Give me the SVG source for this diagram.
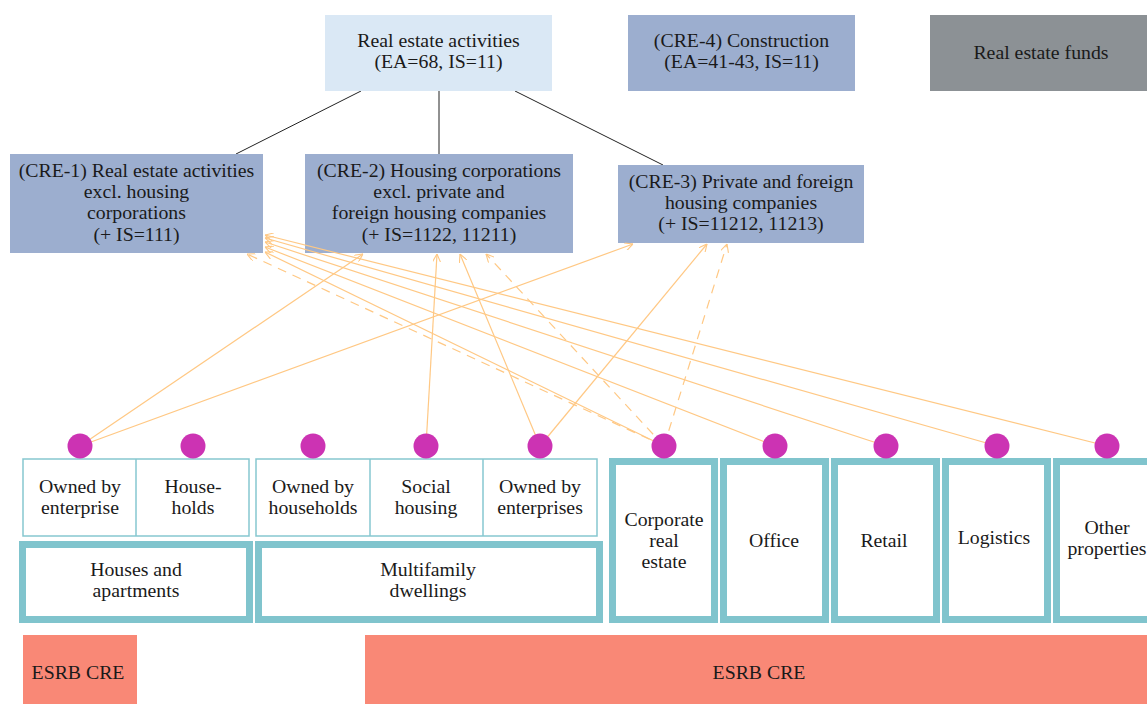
<svg xmlns="http://www.w3.org/2000/svg" width="1147" height="704" viewBox="0 0 1147 704">
  <style>
    .lbl { font-size: 19.8px; fill: #1a1a1a; text-anchor: middle; }
    .sector { fill: #9caecf; }
    .thin { fill: #ffffff; stroke: #86c7d0; stroke-width: 1.5; }
    .thick { fill: #ffffff; stroke: #80c4cd; stroke-width: 7; }
    .dot { fill: #cc33b3; }
    .esrb { fill: #f98876; }
    .tree { stroke: #222222; stroke-width: 1; fill: none; }
    .link { stroke: #ffc884; stroke-width: 1.2; fill: none; marker-end: url(#open); }
    .dash { stroke-dasharray: 9 7; }
  </style>
  <defs>
    <marker id="open" viewBox="0 0 10 10" refX="10" refY="5" markerWidth="8" markerHeight="8" markerUnits="userSpaceOnUse" orient="auto">
      <path d="M0,0 L10,5 L0,10" fill="none" stroke="#ffc884" stroke-width="1.4"/>
    </marker>
  </defs>

  <rect width="1147" height="704" fill="#ffffff"/>

  <!-- hierarchy lines -->
  <g id="tree-lines">
    <line class="tree" x1="361" y1="91" x2="236" y2="154"/>
    <line class="tree" x1="439" y1="91" x2="439" y2="154"/>
    <line class="tree" x1="515" y1="91" x2="663" y2="165"/>
  </g>

  <g font-family="'Liberation Serif', 'DejaVu Serif', serif">
  <!-- top row -->
  <g id="real-estate-activities">
    <rect x="325" y="15" width="227" height="76" fill="#dae8f5"/>
    <text class="lbl" x="438.5" y="47">Real estate activities</text>
    <text class="lbl" x="438.5" y="68">(EA=68, IS=11)</text>
  </g>
  <g id="cre-4">
    <rect class="sector" x="628" y="15" width="227" height="76"/>
    <text class="lbl" x="741.5" y="47">(CRE-4) Construction</text>
    <text class="lbl" x="741.5" y="68">(EA=41-43, IS=11)</text>
  </g>
  <g id="real-estate-funds">
    <rect x="930" y="15" width="217" height="76" fill="#8c9195"/>
    <text class="lbl" x="1041" y="59">Real estate funds</text>
  </g>

  <!-- sector row -->
  <g id="cre-1">
    <rect class="sector" x="10" y="154" width="253" height="99"/>
    <text class="lbl" x="136.5" y="177">(CRE-1) Real estate activities</text>
    <text class="lbl" x="136.5" y="198">excl. housing</text>
    <text class="lbl" x="136.5" y="219">corporations</text>
    <text class="lbl" x="136.5" y="241">(+ IS=111)</text>
  </g>
  <g id="cre-2">
    <rect class="sector" x="305" y="154" width="268" height="99"/>
    <text class="lbl" x="439" y="177">(CRE-2) Housing corporations</text>
    <text class="lbl" x="439" y="198">excl. private and</text>
    <text class="lbl" x="439" y="219">foreign housing companies</text>
    <text class="lbl" x="439" y="241">(+ IS=1122, 11211)</text>
  </g>
  <g id="cre-3">
    <rect class="sector" x="618" y="165" width="246" height="78"/>
    <text class="lbl" x="741" y="188">(CRE-3) Private and foreign</text>
    <text class="lbl" x="741" y="209">housing companies</text>
    <text class="lbl" x="741" y="230">(+ IS=11212, 11213)</text>
  </g>
  </g>

  <!-- connectors from property types to sectors -->
  <g id="connectors">
    <line class="link" x1="80" y1="446" x2="363" y2="254"/>
    <line class="link" x1="80" y1="446" x2="633" y2="244"/>
    <line class="link" x1="426" y1="446" x2="437" y2="254"/>
    <line class="link" x1="540" y1="446" x2="460" y2="254"/>
    <line class="link" x1="540" y1="446" x2="707" y2="244"/>
    <line class="link dash" x1="664" y1="446" x2="727" y2="244"/>
    <line class="link dash" x1="664" y1="446" x2="486" y2="254"/>
    <line class="link dash" x1="664" y1="446" x2="247" y2="254"/>
    <line class="link" x1="664" y1="446" x2="265" y2="252"/>
    <line class="link" x1="775" y1="446" x2="265" y2="247"/>
    <line class="link" x1="886" y1="446" x2="265" y2="242"/>
    <line class="link" x1="997" y1="446" x2="265" y2="238"/>
    <line class="link" x1="1107" y1="446" x2="265" y2="235"/>
  </g>

  <g font-family="'Liberation Serif', 'DejaVu Serif', serif">
  <!-- dwelling ownership cells -->
  <g id="houses-owners">
    <rect class="thin" x="23" y="459" width="226" height="77"/>
    <line class="thin" x1="136" y1="459" x2="136" y2="536"/>
    <text class="lbl" x="80" y="493">Owned by</text>
    <text class="lbl" x="80" y="514">enterprise</text>
    <text class="lbl" x="193" y="493">House-</text>
    <text class="lbl" x="193" y="514">holds</text>
  </g>
  <g id="multifamily-owners">
    <rect class="thin" x="256" y="459" width="341" height="77"/>
    <line class="thin" x1="370" y1="459" x2="370" y2="536"/>
    <line class="thin" x1="483" y1="459" x2="483" y2="536"/>
    <text class="lbl" x="313" y="493">Owned by</text>
    <text class="lbl" x="313" y="514">households</text>
    <text class="lbl" x="426" y="493">Social</text>
    <text class="lbl" x="426" y="514">housing</text>
    <text class="lbl" x="540" y="493">Owned by</text>
    <text class="lbl" x="540" y="514">enterprises</text>
  </g>

  <g id="houses-apartments">
    <rect class="thick" x="22.5" y="544.5" width="227" height="75"/>
    <text class="lbl" x="136" y="576">Houses and</text>
    <text class="lbl" x="136" y="597">apartments</text>
  </g>
  <g id="multifamily">
    <rect class="thick" x="258.5" y="544.5" width="341" height="75"/>
    <text class="lbl" x="428" y="576">Multifamily</text>
    <text class="lbl" x="428" y="597">dwellings</text>
  </g>

  <g id="corporate-real-estate">
    <rect class="thick" x="612.5" y="461.5" width="102" height="158"/>
    <text class="lbl" x="664" y="526">Corporate</text>
    <text class="lbl" x="664" y="547">real</text>
    <text class="lbl" x="664" y="568">estate</text>
  </g>
  <g id="office">
    <rect class="thick" x="723.5" y="461.5" width="102" height="158"/>
    <text class="lbl" x="774" y="547">Office</text>
  </g>
  <g id="retail">
    <rect class="thick" x="834.5" y="461.5" width="102" height="158"/>
    <text class="lbl" x="884" y="547">Retail</text>
  </g>
  <g id="logistics">
    <rect class="thick" x="945.5" y="461.5" width="102" height="158"/>
    <text class="lbl" x="994" y="544">Logistics</text>
  </g>
  <g id="other-properties">
    <rect class="thick" x="1056.5" y="461.5" width="102" height="158"/>
    <text class="lbl" x="1107" y="534">Other</text>
    <text class="lbl" x="1107" y="555">properties</text>
  </g>

  <!-- ESRB scope bars -->
  <g id="esrb-left">
    <rect class="esrb" x="23" y="635" width="114" height="69"/>
    <text class="lbl" x="78" y="679">ESRB CRE</text>
  </g>
  <g id="esrb-right">
    <rect class="esrb" x="365" y="635" width="782" height="69"/>
    <text class="lbl" x="759" y="679">ESRB CRE</text>
  </g>
  </g>

  <!-- attachment dots -->
  <g id="dots">
    <circle class="dot" cx="80" cy="446" r="12.5"/>
    <circle class="dot" cx="193" cy="446" r="12.5"/>
    <circle class="dot" cx="313" cy="446" r="12.5"/>
    <circle class="dot" cx="426" cy="446" r="12.5"/>
    <circle class="dot" cx="540" cy="446" r="12.5"/>
    <circle class="dot" cx="664" cy="446" r="12.5"/>
    <circle class="dot" cx="775" cy="446" r="12.5"/>
    <circle class="dot" cx="886" cy="446" r="12.5"/>
    <circle class="dot" cx="997" cy="446" r="12.5"/>
    <circle class="dot" cx="1107" cy="446" r="12.5"/>
  </g>
</svg>
